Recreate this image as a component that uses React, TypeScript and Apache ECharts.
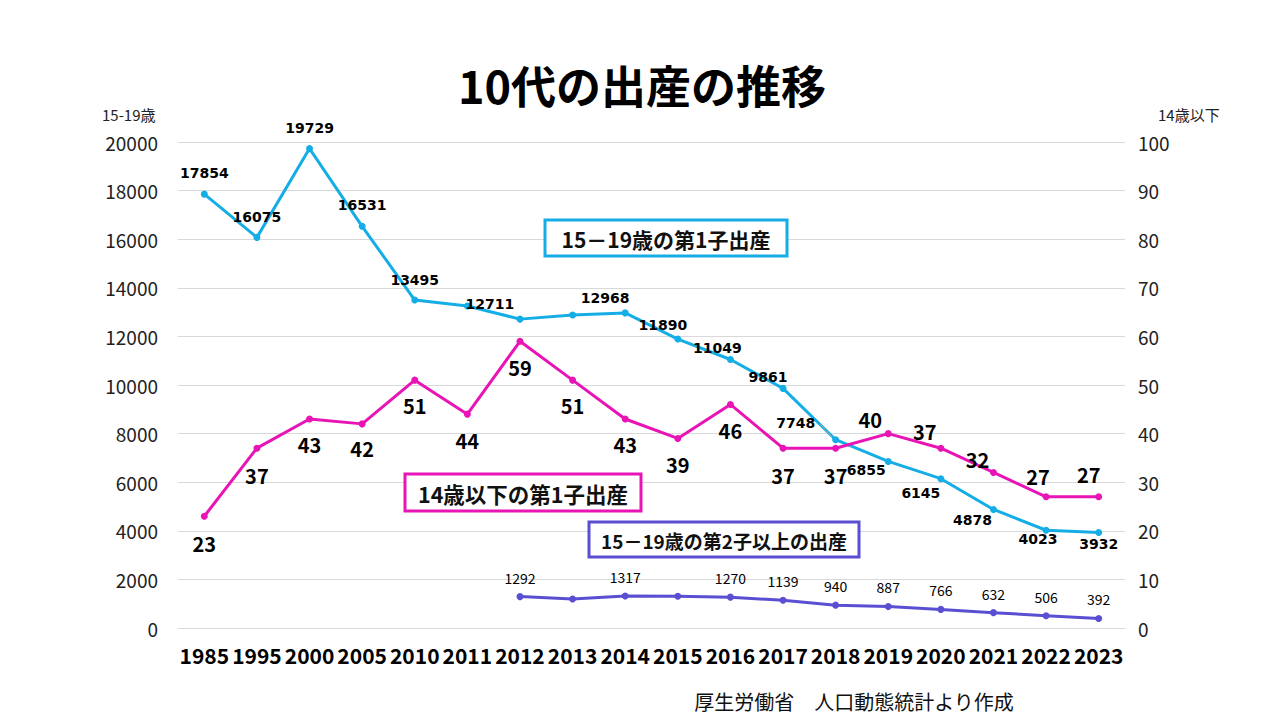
import React, { useEffect, useRef } from "react";
import * as echarts from "echarts";

const years = ["1985", "1995", "2000", "2005", "2010", "2011", "2012", "2013", "2014", "2015", "2016", "2017", "2018", "2019", "2020", "2021", "2022", "2023"];
// 15-19歳の第1子出産 (left axis)
const first1519 = [17854, 16075, 19729, 16531, 13495, 13250, 12711, 12880, 12968, 11890, 11049, 9861, 7748, 6855, 6145, 4878, 4023, 3932];
// 14歳以下の第1子出産 (right axis)
const first14 = [23, 37, 43, 42, 51, 44, 59, 51, 43, 39, 46, 37, 37, 40, 37, 32, 27, 27];
// 15-19歳の第2子以上の出産 (left axis)
const second1519 = [null, null, null, null, null, null, 1292, 1193, 1317, 1304, 1270, 1139, 940, 887, 766, 632, 506, 392];
// which points carry a value label
const first1519Labeled = [true, true, true, true, true, false, true, false, true, true, true, true, true, true, true, true, true, true];
const second1519Labeled = [false, false, false, false, false, false, true, false, true, false, true, true, true, true, true, true, true, true];

const leftTicks = { min: 0, max: 20000, interval: 2000 };
const rightTicks = { min: 0, max: 100, interval: 10 };

// label placement (offsets relative to the point)
const cyanOffsets: number[][] = [
  [0, -21], [0, -20], [0, -21], [0, -21], [0, -20], [0, 0], [-30, -15], [0, 0], [-20, -15], [-15, -14],
  [-13, -12], [-15, -11], [-40, -17], [-22, 9], [-20, 14], [-21, 11], [-8, 9], [0, 12],
];
const magentaOffsets: number[][] = [
  [0, 27], [0, 27], [0, 25], [0, 25], [0, 25], [0, 26], [0, 26], [0, 25], [0, 25], [0, 26],
  [0, 26], [0, 27], [0, 27], [-18, -14], [-16, -17], [-16, -13], [-8, -20], [-10, -22],
];

const CYAN = "#15ADE6";
const MAGENTA = "#E814B6";
const PURPLE = "#5A4FD2";
const CJK = "'Noto Sans CJK JP', 'Noto Sans', sans-serif";
const LAT = "'DejaVu Sans', 'Noto Sans CJK JP', sans-serif";

export default function App() {
  const ref = useRef<HTMLDivElement>(null);
  useEffect(() => {
    if (!ref.current) return;
    const chart = echarts.init(ref.current, null, { renderer: "svg" });

    const cyanData = first1519.map((v, i) => ({
      value: v,
      label: { show: first1519Labeled[i], offset: cyanOffsets[i] },
    }));
    const magentaData = first14.map((v, i) => ({
      value: v,
      label: { show: true, offset: magentaOffsets[i] },
    }));
    const purpleData = second1519.map((v, i) => ({
      value: v,
      label: { show: second1519Labeled[i] && v != null, offset: [0, -19] },
    }));

    const box = (x: number, y: number, w: number, h: number, color: string, text: string, fs: number) => [
      {
        type: "rect",
        z: 100,
        shape: { x, y, width: w, height: h },
        style: { fill: "#ffffff", stroke: color, lineWidth: 3 },
      },
      {
        type: "text",
        z: 101,
        x: x + w / 2,
        y: y + h / 2 + 1,
        style: {
          text,
          align: "center",
          verticalAlign: "middle",
          fontSize: fs,
          fontWeight: "bold",
          fontFamily: CJK,
          fill: "#111",
        },
      },
    ];

    chart.setOption({
      animation: false,
      backgroundColor: "#ffffff",
      grid: { left: 178, right: 155, top: 142, bottom: 92, containLabel: false },
      xAxis: {
        type: "category",
        data: years,
        boundaryGap: true,
        axisLine: { show: true, lineStyle: { color: "#d9d9d9" } },
        axisTick: { show: false },
        axisLabel: {
          color: "#000",
          fontSize: 21,
          fontWeight: "bold",
          fontFamily: CJK,
          margin: 16,
          interval: 0,
        },
      },
      yAxis: [
        {
          type: "value",
          ...leftTicks,
          axisLine: { show: false },
          axisTick: { show: false },
          splitLine: { show: true, lineStyle: { color: "#d9d9d9", width: 1 } },
          axisLabel: {
            color: "#222",
            fontSize: 19,
            fontFamily: CJK,
            margin: 20,
            formatter: (v: number) => String(v),
          },
        },
        {
          type: "value",
          ...rightTicks,
          position: "right",
          axisLine: { show: false },
          axisTick: { show: false },
          splitLine: { show: false },
          axisLabel: { color: "#222", fontSize: 19, fontFamily: CJK, margin: 13, formatter: (v: number) => String(v) },
        },
      ],
      series: [
        {
          name: "15－19歳の第1子出産",
          type: "line",
          yAxisIndex: 0,
          data: cyanData,
          symbol: "circle",
          symbolSize: 7,
          lineStyle: { color: CYAN, width: 3 },
          itemStyle: { color: CYAN },
          z: 3,
          label: {
            show: true,
            position: "inside",
            color: "#000",
            fontSize: 14,
            fontWeight: "bold",
            fontFamily: LAT,
          },
        },
        {
          name: "14歳以下の第1子出産",
          type: "line",
          yAxisIndex: 1,
          data: magentaData,
          symbol: "circle",
          symbolSize: 7,
          lineStyle: { color: MAGENTA, width: 3 },
          itemStyle: { color: MAGENTA },
          z: 4,
          label: {
            show: true,
            position: "inside",
            color: "#000",
            fontSize: 20,
            fontWeight: "bold",
            fontFamily: CJK,
          },
        },
        {
          name: "15－19歳の第2子以上の出産",
          type: "line",
          yAxisIndex: 0,
          data: purpleData,
          connectNulls: false,
          symbol: "circle",
          symbolSize: 7,
          lineStyle: { color: PURPLE, width: 3 },
          itemStyle: { color: PURPLE },
          z: 3,
          label: {
            show: true,
            position: "inside",
            color: "#000",
            fontSize: 14,
            fontFamily: CJK,
          },
        },
      ],
      graphic: [
        {
          type: "text",
          x: 642,
          y: 84,
          style: {
            text: "10代の出産の推移",
            align: "center",
            verticalAlign: "middle",
            fontSize: 45,
            fontWeight: "bold",
            fontFamily: CJK,
            fill: "#000",
          },
        },
        {
          type: "text",
          x: 102,
          y: 114,
          style: { text: "15-19歳", align: "left", verticalAlign: "middle", fontSize: 15, fontFamily: CJK, fill: "#222" },
        },
        {
          type: "text",
          x: 1158,
          y: 114,
          style: { text: "14歳以下", align: "left", verticalAlign: "middle", fontSize: 15, fontFamily: CJK, fill: "#222" },
        },
        {
          type: "text",
          x: 854,
          y: 701,
          style: {
            text: "厚生労働省　人口動態統計より作成",
            align: "center",
            verticalAlign: "middle",
            fontSize: 20,
            fontFamily: CJK,
            fill: "#111",
          },
        },
        {
          type: "line",
          z: 5,
          shape: { x1: 820, y1: 424, x2: 832, y2: 437 },
          style: { stroke: "#a6a6a6", lineWidth: 1 },
        },
        ...box(545, 220, 242, 36, CYAN, "15－19歳の第1子出産", 21),
        ...box(405, 474, 236, 37, MAGENTA, "14歳以下の第1子出産", 21.5),
        ...box(589, 522, 270, 35, PURPLE, "15－19歳の第2子以上の出産", 19),
      ],
    });
    return () => chart.dispose();
  }, []);
  return (
    <div
      ref={ref}
      style={{ position: "absolute", left: 0, top: 0, width: 1280, height: 720, background: "#fff" }}
    />
  );
}
